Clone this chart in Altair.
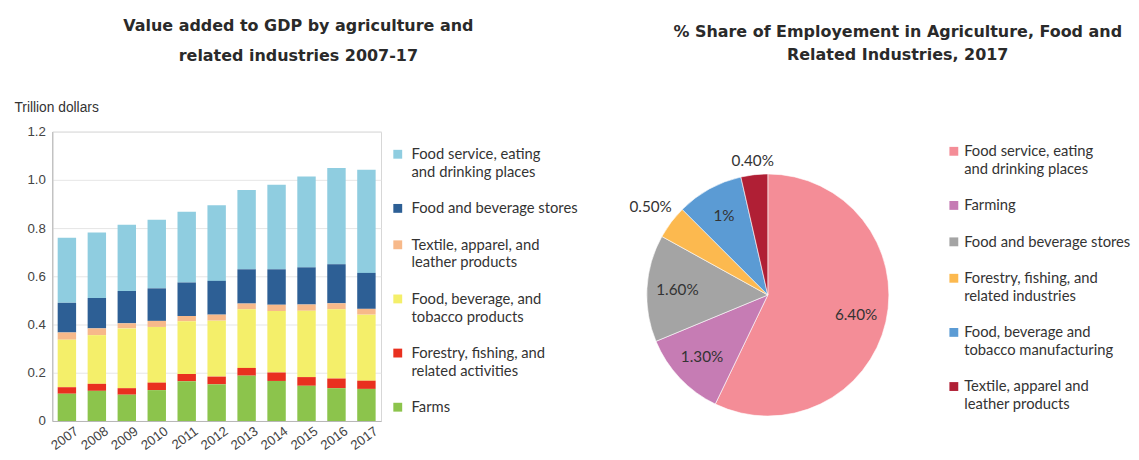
import altair as alt
import pandas as pd

# ---------------- data: stacked bars (trillion dollars) ----------------
years = ["2007", "2008", "2009", "2010", "2011", "2012", "2013", "2014", "2015", "2016", "2017"]
farms = [0.113, 0.125, 0.109, 0.128, 0.165, 0.152, 0.188, 0.166, 0.146, 0.136, 0.133]
forestry = [0.027, 0.029, 0.027, 0.031, 0.030, 0.032, 0.032, 0.035, 0.036, 0.040, 0.034]
food_bev_tobacco = [0.197, 0.202, 0.248, 0.231, 0.219, 0.232, 0.243, 0.255, 0.275, 0.287, 0.274]
textile = [0.030, 0.028, 0.021, 0.025, 0.021, 0.025, 0.024, 0.026, 0.026, 0.025, 0.024]
bev_stores = [0.123, 0.126, 0.134, 0.135, 0.139, 0.140, 0.142, 0.147, 0.154, 0.162, 0.149]
food_service = [0.270, 0.272, 0.275, 0.284, 0.294, 0.314, 0.329, 0.351, 0.377, 0.399, 0.428]

# legend order (top to bottom); stacking is the reverse (Farms at the bottom)
bar_categories = [
    "Food service, eating\nand drinking places",
    "Food and beverage stores",
    "Textile, apparel, and\nleather products",
    "Food, beverage, and\ntobacco products",
    "Forestry, fishing, and\nrelated activities",
    "Farms",
]
bar_series = [food_service, bev_stores, textile, food_bev_tobacco, forestry, farms]
bar_colors = ["#8fcde0", "#2d5f95", "#f7b98a", "#f4ef6a", "#e9301f", "#8cc44c"]

# ---------------- data: pie (% share of employment) ----------------
pie_categories = [
    "Food service, eating\nand drinking places",
    "Farming",
    "Food and beverage stores",
    "Forestry, fishing, and\nrelated industries",
    "Food, beverage and\ntobacco manufacturing",
    "Textile, apparel and\nleather products",
]
pie_values = [6.4, 1.3, 1.6, 0.5, 1.0, 0.4]
pie_labels = ["6.40%", "1.30%", "1.60%", "0.50%", "1%", "0.40%"]
pie_colors = ["#f48d97", "#c67cb4", "#a4a4a4", "#fcb94f", "#5b9bd4", "#b01f35"]

bar_title = "Value added to GDP by agriculture and\nrelated industries 2007-17"
pie_title = "% Share of Employement in Agriculture, Food and\nRelated Industries, 2017"

# ---------------- tables ----------------
rows = []
n = len(bar_categories)
for k, (cat, series) in enumerate(zip(bar_categories, bar_series)):
    for yr, v in zip(years, series):
        rows.append({"year": yr, "bar_cat": cat, "value": v, "stack_idx": n - 1 - k})
bar_df = pd.DataFrame(rows)

pie_df = pd.DataFrame({
    "pie_cat": pie_categories,
    "share": pie_values,
    "label": pie_labels,
    "idx": list(range(len(pie_categories))),
})

LINE_H = 18
GAP = 19


def legend_table(labels, field, top):
    ys, y = [], top
    for lab in labels:
        ys.append(y)
        y += (lab.count("\n") + 1) * LINE_H + GAP
    return pd.DataFrame({field: labels, "sy": ys, "ty": [v - 7 for v in ys]})


TEXT_FONT = "Lato"
TITLE_FONT = "DejaVu Sans"
AXIS_FONT = "Liberation Sans"
W_BAR, H = 334, 294

# ---------------- bar chart ----------------
bar_color = alt.Color("bar_cat:N", scale=alt.Scale(domain=bar_categories, range=bar_colors), legend=None)

bars = alt.Chart(bar_df).mark_bar().encode(
    x=alt.X(
        "year:O", sort=years,
        scale=alt.Scale(paddingInner=0.385, paddingOuter=0.18),
        axis=alt.Axis(title=None, labelAngle=-36, labelFont=AXIS_FONT, labelFontSize=13.5,
                      labelColor="#444", ticks=False, domainColor="#b5b5b5", labelPadding=3,
                      labelOffset=6),
    ),
    y=alt.Y(
        "value:Q", stack="zero",
        scale=alt.Scale(domain=[0, 1.2], nice=False),
        axis=alt.Axis(values=[0, 0.2, 0.4, 0.6, 0.8, 1.0, 1.2],
                      labelExpr="datum.value == 0 ? '0' : format(datum.value, '.1f')",
                      labelFont=AXIS_FONT, labelFontSize=13.5, labelColor="#444",
                      ticks=False, domainColor="#b5b5b5", gridColor="#e6e6e6",
                      labelPadding=7,
                      title="Trillion dollars", titleAngle=0, titleX=-39, titleY=-20,
                      titleAlign="left", titleBaseline="alphabetic",
                      titleFont=AXIS_FONT, titleFontSize=14, titleFontWeight="normal",
                      titleColor="#333"),
    ),
    color=bar_color,
    order=alt.Order("stack_idx:Q", sort="ascending"),
)

bar_title_layer = alt.Chart(pd.DataFrame({"t": [bar_title]})).mark_text(
    font=TITLE_FONT, fontSize=16.2, fontWeight="bold", color="#2a2a2a",
    align="center", baseline="alphabetic", lineBreak="\n", lineHeight=30,
).encode(text="t:N", x=alt.value(250), y=alt.value(-102))

bar_panel = alt.layer(bars, bar_title_layer).properties(
    width=W_BAR, height=H, view=alt.ViewBackground(stroke="#d6d6d6")
)

# ---------------- bar legend ----------------
bl_df = legend_table(bar_categories, "bar_cat", 23)
bar_leg_sq = alt.Chart(bl_df).mark_square(size=81, opacity=1).encode(
    x=alt.value(17), y=alt.Y("sy:Q", scale=None, axis=None), color=bar_color,
)
bar_leg_tx = alt.Chart(bl_df).mark_text(
    align="left", baseline="top", lineBreak="\n", lineHeight=LINE_H,
    font=TEXT_FONT, fontSize=15, color="#333",
).encode(x=alt.value(31), y=alt.Y("ty:Q", scale=None, axis=None), text="bar_cat:N")
bar_legend = alt.layer(bar_leg_sq, bar_leg_tx).properties(width=269, height=H)

# ---------------- pie ----------------
pie_color = alt.Color("pie_cat:N", scale=alt.Scale(domain=pie_categories, range=pie_colors), legend=None)
PIE_R = 123
CX, CY = 124, 166
base = alt.Chart(pie_df).encode(
    theta=alt.Theta("share:Q", stack=True),
    order=alt.Order("idx:Q", sort="ascending"),
)
arcs = base.mark_arc(outerRadius=PIE_R, stroke="white", strokeWidth=0.6).encode(
    color=pie_color, x=alt.value(CX), y=alt.value(CY),
)


def pie_label_layer(test, radius):
    return base.mark_text(radius=radius, font=TEXT_FONT, fontSize=15.5, color="#333").encode(
        text=alt.condition(test, "label:N", alt.value("")),
        x=alt.value(CX), y=alt.value(CY),
    )


inside_text = pie_label_layer("datum.share >= 1", 92)
outside_a = pie_label_layer("datum.share < 1 && datum.share >= 0.45", 149)
outside_b = pie_label_layer("datum.share < 0.45", 137)

pie_title_layer = alt.Chart(pd.DataFrame({"t": [pie_title]})).mark_text(
    font=TITLE_FONT, fontSize=16.2, fontWeight="bold", color="#2a2a2a",
    align="center", baseline="alphabetic", lineBreak="\n", lineHeight=23,
).encode(text="t:N", x=alt.value(256), y=alt.value(-96))

pie_panel = alt.layer(arcs, inside_text, outside_a, outside_b, pie_title_layer).properties(
    width=246, height=H
)

# ---------------- pie legend ----------------
pl_df = legend_table(pie_categories, "pie_cat", 20)
pie_leg_sq = alt.Chart(pl_df).mark_square(size=81, opacity=1).encode(
    x=alt.value(67), y=alt.Y("sy:Q", scale=None, axis=None), color=pie_color,
)
pie_leg_tx = alt.Chart(pl_df).mark_text(
    align="left", baseline="top", lineBreak="\n", lineHeight=LINE_H,
    font=TEXT_FONT, fontSize=15, color="#333",
).encode(x=alt.value(77.5), y=alt.Y("ty:Q", scale=None, axis=None), text="pie_cat:N")
pie_legend = alt.layer(pie_leg_sq, pie_leg_tx).properties(width=160, height=H)

chart = alt.hconcat(
    bar_panel, bar_legend, pie_panel, pie_legend, spacing=0, bounds="flush"
).resolve_scale(color="independent").properties(
    padding={"left": 5, "top": 6, "right": 0, "bottom": 0},
    background="white",
).configure_view(stroke=None)

chart.save("out.html", embed_options={"renderer": "svg", "actions": False})
